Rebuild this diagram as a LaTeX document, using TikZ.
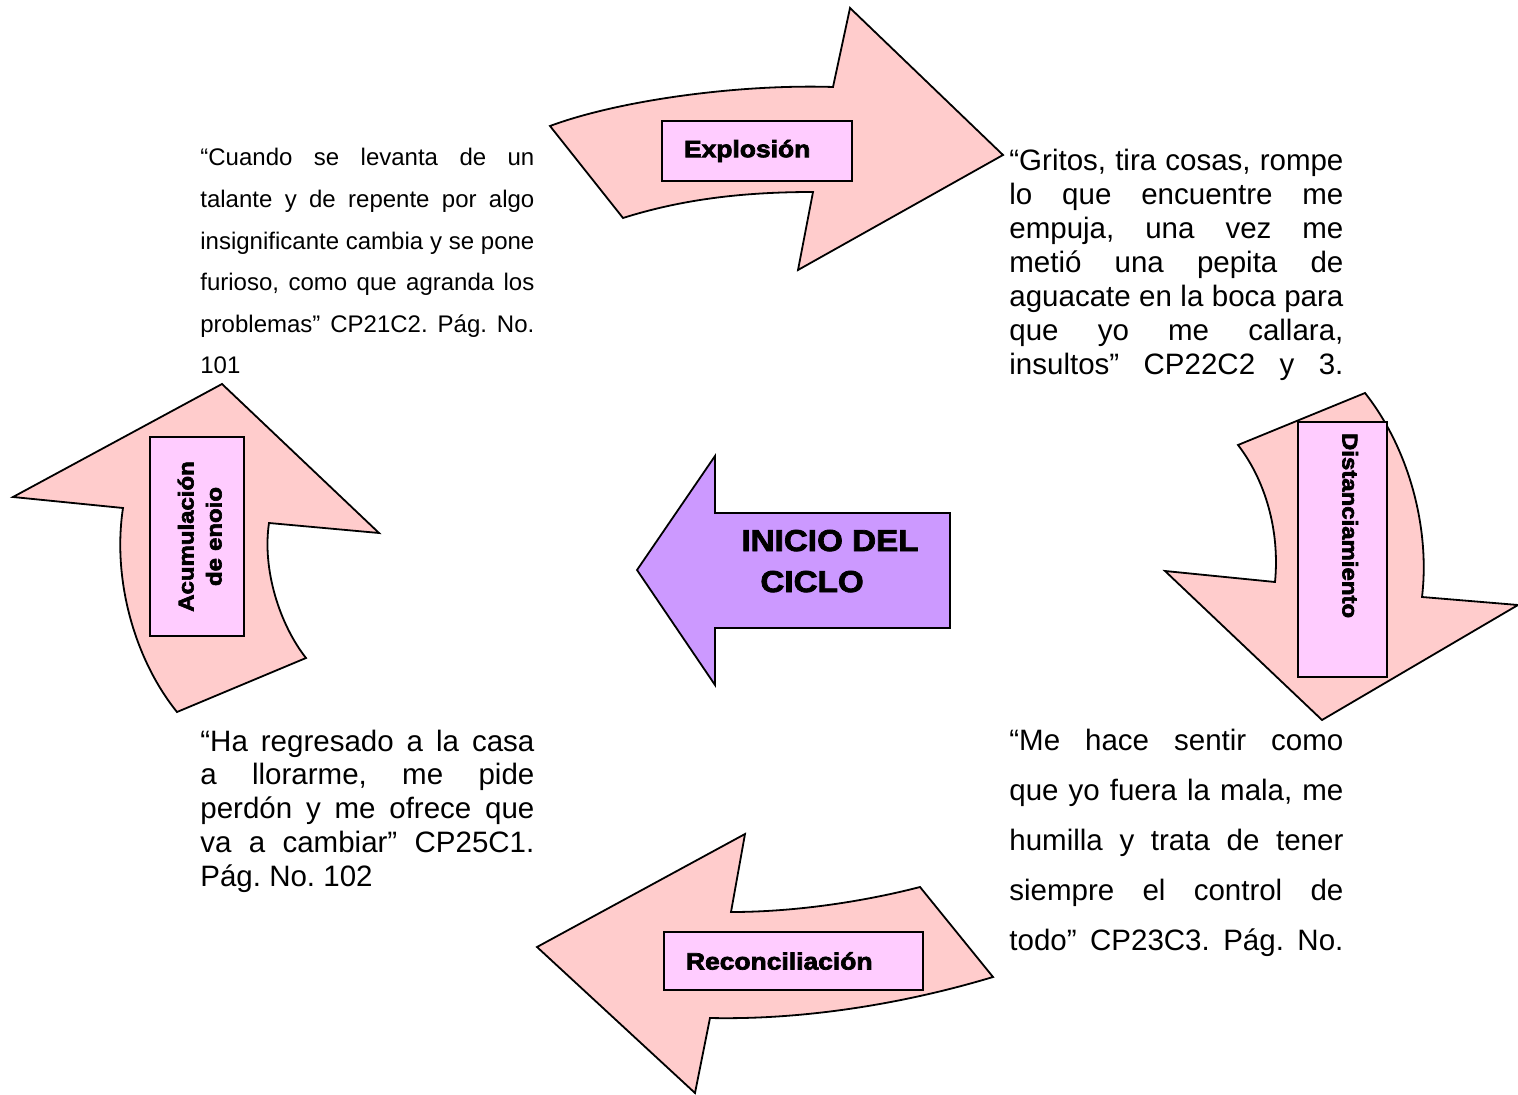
\documentclass[tikz,border=0pt]{standalone}
\usepackage{fontspec}
\setmainfont{Liberation Sans}
\newfontfamily\lblfont{Liberation Sans Bold}[FakeStretch=1.12,FakeBold=3]
\newfontfamily\inifont{Liberation Sans Bold}[FakeStretch=1.1,FakeBold=2.5]
\definecolor{arrowpink}{HTML}{FFCCCC}
\definecolor{boxpink}{HTML}{FFCCFF}
\definecolor{inipurple}{HTML}{CC99FF}
\newcommand{\txtsetup}{\frenchspacing\tolerance=10000 \hbadness=10000 \hyphenpenalty=10000 \parindent=0pt }
\tikzset{
  arrowshape/.style={draw, fill=arrowpink, line width=0.9pt, line join=miter},
  iniarrow/.style={draw, fill=inipurple, line width=0.9pt, line join=miter},
  lblbox/.style={draw, fill=boxpink, line width=0.9pt},
  quotetext/.style={anchor=base west, inner sep=0pt, text width=167pt, align=justify},
}
\begin{document}
\begin{tikzpicture}[x=0.5pt,y=-0.5pt]
\useasboundingbox (0,0) rectangle (1518,1095);

% Explosion arrow (top)
\draw[arrowshape] (550,126) .. controls (620,100) and (740,84) .. (833,87) -- (850,8) -- (1003,155) -- (798,270) -- (813,192) .. controls (740,192) and (680,200) .. (623,218) -- cycle;
% Distanciamiento arrow (right)
\draw[arrowshape] (1365,393) .. controls (1410,450) and (1430,530) .. (1422,597) -- (1518,605) -- (1322,720) -- (1165,571) -- (1275,582) .. controls (1280,530) and (1265,480) .. (1238,445) -- cycle;
% Acumulacion arrow (left)
\draw[arrowshape] (222,384) -- (379,533) -- (269,523) .. controls (262,570) and (280,625) .. (306,658) -- (177,712) .. controls (135,660) and (112,580) .. (123,508) -- (13,497) -- cycle;
% Reconciliacion arrow (bottom)
\draw[arrowshape] (537,947) -- (745,834) -- (731,912) .. controls (800,912) and (870,900) .. (920,887) -- (993,977) .. controls (900,1005) and (800,1020) .. (710,1018) -- (695,1093) -- cycle;
% Inicio arrow (centre)
\draw[iniarrow] (637,570) -- (715,456) -- (715,513) -- (950,513) -- (950,628) -- (715,628) -- (715,685) -- cycle;
\node[anchor=base west, inner sep=0pt, align=left, font=\inifont\fontsize{15.1pt}{20.5pt}\selectfont] (inicio) at (741,592) {INICIO DEL\\\hspace*{9.5pt}CICLO};

% label boxes
\node[lblbox, minimum width=95pt, minimum height=30pt, inner xsep=11pt, text width=73pt, align=left, font=\lblfont\fontsize{11.8pt}{12pt}\selectfont] (explosion) at (757,151) {Explosión};
\node[lblbox, minimum width=129.5pt, minimum height=29pt, inner xsep=11pt, text width=107.5pt, align=left, font=\lblfont\fontsize{11.8pt}{12pt}\selectfont] (reconc) at (793.5,961) {Reconciliación};
\node[lblbox, rotate=-90, minimum width=127.5pt, minimum height=44.5pt, inner xsep=5.5pt, text width=116.5pt, align=left, font=\lblfont\fontsize{10.7pt}{12pt}\selectfont] (distan) at (1342.5,549.5) {\raisebox{0pt}[0pt][0pt]{Distanciamiento}};
\node[lblbox, rotate=90, minimum width=99.5pt, minimum height=47pt, inner xsep=5pt, text width=89.5pt, align=center, font=\lblfont\fontsize{10.7pt}{14pt}\selectfont] (acum) at (197,536.5) {\raisebox{0pt}[12.5pt][0pt]{Acumulación}\\\raisebox{0pt}[0pt][2pt]{de enoio}};

% quotes
\node[quotetext, font=\fontsize{12pt}{20.8pt}\selectfont\txtsetup] (qtl) at (200,166) {“Cuando se levanta de un\linebreak talante y de repente por algo\linebreak insignificante cambia y se pone\linebreak furioso, como que agranda los\linebreak problemas” CP21C2. Pág. No.\linebreak 101};
\node[quotetext, font=\fontsize{14.75pt}{17pt}\selectfont\txtsetup] (qtr) at (1009,171) {“Gritos, tira cosas, rompe\linebreak lo que encuentre me\linebreak empuja, una vez me\linebreak metió una pepita de\linebreak aguacate en la boca para\linebreak que yo me callara,\linebreak insultos” CP22C2 y 3.\parfillskip=0pt\par};
\node[quotetext, font=\fontsize{14.75pt}{16.95pt}\selectfont\txtsetup] (qbl) at (200,751) {“Ha regresado a la casa\linebreak a llorarme, me pide\linebreak perdón y me ofrece que\linebreak va a cambiar” CP25C1.\linebreak Pág. No. 102};
\node[quotetext, font=\fontsize{14.75pt}{25pt}\selectfont\txtsetup] (qbr) at (1009,750) {“Me hace sentir como\linebreak que yo fuera la mala, me\linebreak humilla y trata de tener\linebreak siempre el control de\linebreak todo” CP23C3. Pág. No.\parfillskip=0pt\par};
\end{tikzpicture}
\end{document}
